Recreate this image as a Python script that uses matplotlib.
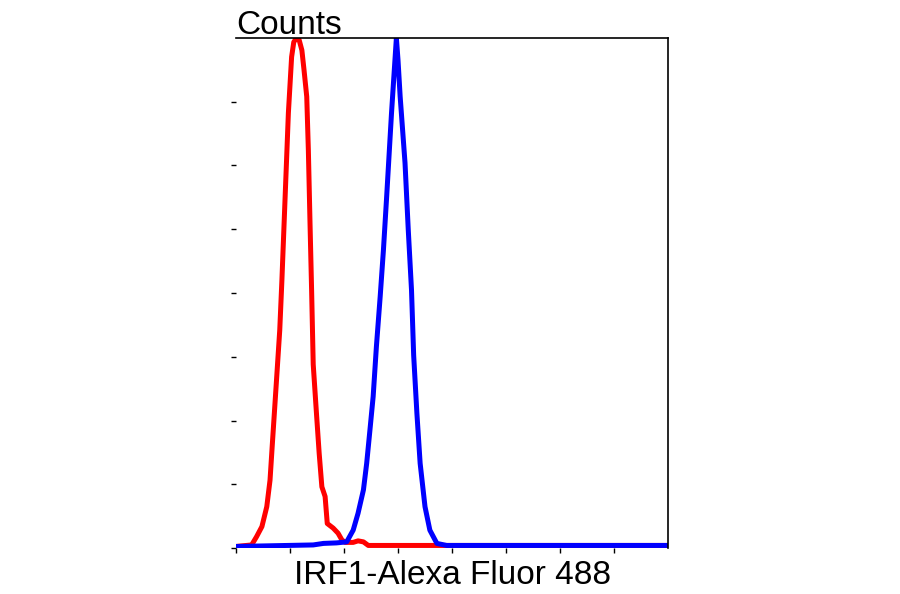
import matplotlib
matplotlib.use("Agg")
import matplotlib.pyplot as plt

# Fluorescence axis (arbitrary decade units) and counts (% of max)
red_x = [0.00, 0.29, 0.38, 0.48, 0.57, 0.63, 0.67, 0.71, 0.75, 0.81, 0.85, 0.91, 0.97,
         1.03, 1.07, 1.12, 1.17, 1.22, 1.26, 1.31, 1.34, 1.37, 1.40, 1.43, 1.49, 1.54, 1.59,
         1.65, 1.69, 1.80, 1.89, 1.96, 2.02, 2.17, 2.26, 2.36, 2.45, 3.78, 8.00]
red_y = [0.3, 0.6, 2.2, 4.2, 8.1, 13.3, 19.9, 26.4, 32.9, 42.7, 52.5, 68.9, 85.3,
         96.3, 99.2, 100.0, 99.6, 97.6, 93.7, 88.5, 78.0, 64.0, 50.6, 36.0, 26.4, 18.6, 12.0,
         10.1, 4.8, 3.9, 2.9, 1.6, 1.1, 1.1, 1.4, 1.2, 0.5, 0.5, 0.5]

blue_x = [0.00, 1.43, 1.62, 1.86, 2.05, 2.17, 2.26, 2.36, 2.42, 2.48, 2.54, 2.60, 2.67,
          2.73, 2.79, 2.88, 2.94, 2.97, 3.00, 3.04, 3.13, 3.19, 3.25, 3.29, 3.35, 3.41,
          3.50, 3.59, 3.72, 3.90, 8.00]
blue_y = [0.3, 0.6, 0.9, 1.0, 1.2, 3.5, 6.8, 11.4, 16.6, 23.1, 29.7, 39.5, 49.3,
          58.4, 68.9, 85.3, 95.1, 100.0, 95.7, 88.5, 75.5, 62.4, 50.6, 37.8, 26.4, 16.6,
          8.1, 3.5, 0.9, 0.5, 0.5]

x_ticks = [0, 1, 2, 3, 4, 5, 6, 7]
y_ticks = [0, 12.5, 25, 37.5, 50, 62.5, 75, 87.5]
x_label = "IRF1-Alexa Fluor 488"
y_title = "Counts"

plt.rcParams['font.family'] = ['Liberation Sans', 'DejaVu Sans']

fig = plt.figure(figsize=(9, 5.94), dpi=100)
ax = fig.add_axes([236/900, 46/594, 432/900, 510/594])

ax.plot(red_x, red_y, color='#ff0000', lw=3.6, solid_joinstyle='round')
ax.plot(blue_x, blue_y, color='#0000ff', lw=3.6, solid_joinstyle='round')

ax.set_xlim(0, 8)
ax.set_ylim(0, 100)
ax.set_xticks(x_ticks)
ax.set_yticks(y_ticks)
ax.set_xticklabels([])
ax.set_yticklabels([])
ax.tick_params(axis='both', direction='out', length=3.5, width=1.0, color='black')

ax.spines['left'].set_visible(False)
ax.spines['bottom'].set_visible(False)
ax.spines['top'].set_linewidth(1.2)
ax.spines['right'].set_linewidth(1.2)

ax.set_xlabel(x_label, fontsize=24, labelpad=2)
ax.text(0, 1.008, y_title, transform=ax.transAxes, fontsize=24,
        ha='left', va='baseline')

fig.savefig("out.png", dpi=100)
